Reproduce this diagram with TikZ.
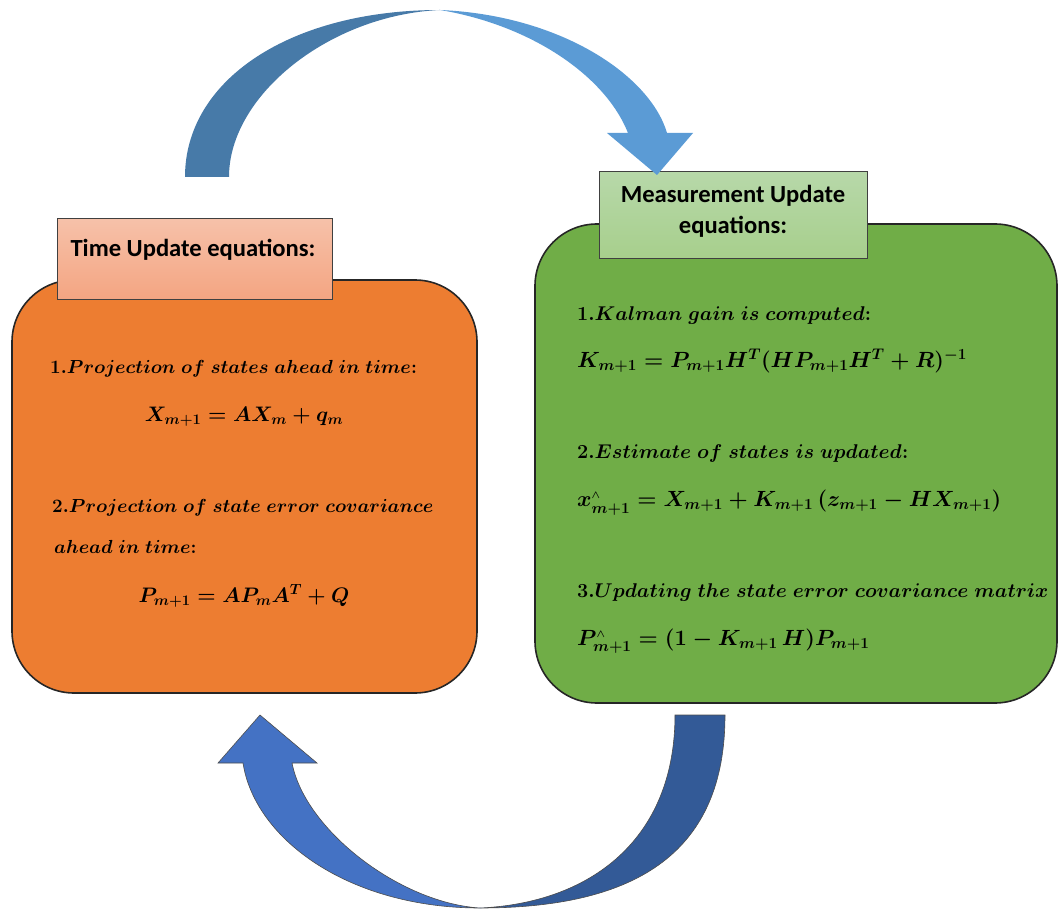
\RequirePackage{fix-cm}
\documentclass[tikz,border=0pt]{standalone}
\usepackage{fontspec}
\newfontfamily\headfont{Carlito}
\definecolor{boxorange}{HTML}{ED7D31}
\definecolor{boxgreen}{HTML}{70AD47}
\definecolor{tagorangetop}{HTML}{F6C1A9}
\definecolor{tagorangebot}{HTML}{F4A582}
\definecolor{taggreentop}{HTML}{B7D8A9}
\definecolor{taggreenbot}{HTML}{A7CF8C}
\definecolor{arcdark}{HTML}{477AA8}
\definecolor{arclight}{HTML}{5B9BD5}
\definecolor{loopdark}{HTML}{335A97}
\definecolor{looplight}{HTML}{4472C4}
\tikzset{
  panel/.style={draw=black!85, line width=1.6pt, rounded corners=62pt, inner sep=0pt},
  tag/.style={draw=black!75, line width=1pt, inner sep=0pt},
  title/.style={inner sep=0pt, font=\headfont\bfseries\fontsize{24.6}{31}\selectfont},
  timeline/.style={inner sep=0pt, anchor=base west, font=\fontsize{18.9}{23}\selectfont\boldmath},
  timeeq/.style={inner sep=0pt, anchor=base, font=\fontsize{21}{25}\selectfont\boldmath},
  measline/.style={inner sep=0pt, anchor=base west, font=\fontsize{19.9}{24}\selectfont\boldmath},
  measeq/.style={inner sep=0pt, anchor=base west, font=\fontsize{22}{26}\selectfont\boldmath},
  lowerarc/.style={draw=black!70, line width=0.6pt},
}
\begin{document}
\begin{tikzpicture}[x=1pt,y=-1pt]
\useasboundingbox (0,0) rectangle (1058,912);

% the two equation panels
\node[panel, fill=boxorange, minimum width=465pt, minimum height=413pt] (timebox) at (244.5,486.5) {};
\node[panel, fill=boxgreen, minimum width=522pt, minimum height=479pt] (measbox) at (796,463.5) {};

% title tags
\node[tag, top color=tagorangetop, bottom color=tagorangebot, minimum width=275pt, minimum height=80pt] (timetag) at (194.5,259) {};
\node[tag, top color=taggreentop, bottom color=taggreenbot, minimum width=268pt, minimum height=87pt] (meastag) at (733,215.5) {};
\node[title] (timetitle) at (193,250) {Time Update equations:};
\node[title, align=center] (meastitle) at (733,211) {Measurement Update\\equations:};

% time update
\node[timeline] (t1) at (50,373) {$1.Projection\ of\ states\ ahead\ in\ time{:}$};
\node[timeeq] (t2) at (244,421) {$X_{m+1} = AX_m + q_m$};
\node[timeline] (t3) at (52,512) {$2.Projection\ of\ state\ error\ covariance$};
\node[timeline] (t4) at (54,553) {$ahead\ in\ time{:}$};
\node[timeeq] (t5) at (244,602) {$P_{m+1} = AP_mA^T + Q$};

% measurement update
\node[measline] (m1) at (577,320) {$1.Kalman\ gain\ is\ computed{:}$};
\node[measeq] (m2) at (577,367) {$K_{m+1} = P_{m+1}H^T(HP_{m+1}H^T + R)^{-1}$};
\node[measline] (m3) at (577,458) {$2.Estimate\ of\ states\ is\ updated{:}$};
\node[measeq] (m4) at (577,506.5) {$x^{\scriptscriptstyle\wedge}_{m+1} = X_{m+1} + K_{m+1}\,(z_{m+1} - HX_{m+1})$};
\node[measline] (m5) at (577,597.5) {$3.Updating\ the\ state\ error\ covariance\ matrix$};
\node[measeq] (m6) at (577,645) {$P^{\scriptscriptstyle\wedge}_{m+1} = (1 - K_{m+1}\,H)P_{m+1}$};

% curved arrow over the top: time update -> measurement update
\fill[arcdark] (185,177) .. controls (185,80) and (290,10) .. (440,10)
  .. controls (330,15) and (229,95) .. (229,177) -- cycle;
\fill[arclight] (440,10) .. controls (560,15) and (650,75) .. (667,133)
  -- (693,133) -- (657,175) -- (607,133) -- (628,133)
  .. controls (605,75) and (530,25) .. (440,10) -- cycle;

% curved arrow underneath: measurement update -> time update
\filldraw[lowerarc, fill=loopdark] (725,715) .. controls (725,850) and (640,908) .. (480,908)
  .. controls (590,903) and (675,840) .. (675,715) -- cycle;
\filldraw[lowerarc, fill=looplight] (480,908) .. controls (350,908) and (255,840) .. (243,763)
  -- (218,763) -- (260,715) -- (317,763) -- (292,763)
  .. controls (305,830) and (400,903) .. (480,908) -- cycle;
\end{tikzpicture}
\end{document}
